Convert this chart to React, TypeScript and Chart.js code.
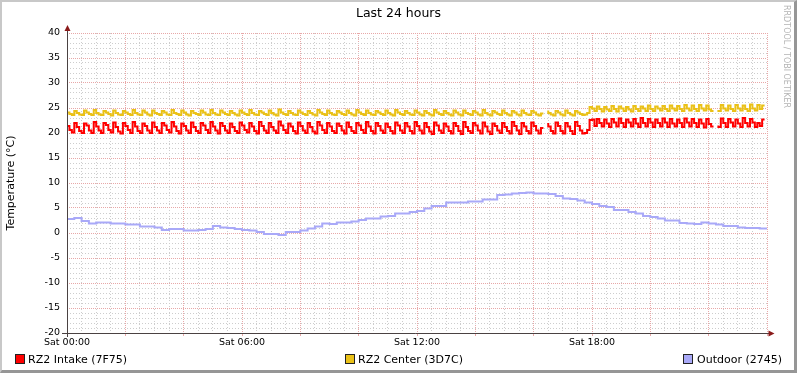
import { useEffect, useRef } from 'react';
import { Chart, registerables } from 'chart.js';

Chart.register(...registerables);

// ---------- data ----------
const TITLE = 'Last 24 hours';
const Y_TITLE = 'Temperature (°C)';
const X_LABELS = ['Sat 00:00', 'Sat 06:00', 'Sat 12:00', 'Sat 18:00'];
const SERIES_NAMES = ['RZ2 Intake (7F75)', 'RZ2 Center (3D7C)', 'Outdoor (2745)'];
const SERIES_COLORS = ['#FF0000', '#EAC117', '#A9A9F8'];
const SAMPLE_MINUTES = 5;
const OUTDOOR_SAMPLE_MINUTES = 15;
const Y_MIN = -20;
const Y_MAX = 40;
const X_MAX = 1440;

// RZ2 Intake, one row per hour (5-minute samples)
const INTAKE: (number | null)[] = [
  22.1, 21.4, 20.6, 20.1, 22.0, 21.2, 20.4, 20.0, 21.9, 21.5, 20.5, 20.0,
  22.2, 21.3, 20.5, 20.0, 22.0, 21.6, 20.6, 20.1, 22.1, 21.2, 20.3, 19.9,
  22.0, 21.4, 20.6, 20.0, 22.2, 21.3, 20.4, 20.0, 21.9, 21.4, 20.5, 20.0,
  22.1, 21.2, 20.5, 20.0, 22.0, 21.5, 20.6, 20.1, 22.2, 21.3, 20.4, 19.9,
  21.9, 21.4, 20.5, 20.0, 22.1, 21.2, 20.4, 20.0, 22.0, 21.5, 20.6, 20.0,
  22.2, 21.3, 20.5, 19.9, 22.0, 21.4, 20.5, 20.0, 21.9, 21.2, 20.4, 20.0,
  22.1, 21.5, 20.6, 20.1, 22.0, 21.3, 20.4, 19.9, 22.2, 21.4, 20.5, 20.0,
  22.0, 21.2, 20.5, 20.0, 22.3, 21.5, 20.6, 20.0, 21.9, 21.3, 20.4, 19.9,
  22.1, 21.4, 20.5, 20.0, 22.0, 21.2, 20.3, 19.9, 22.2, 21.5, 20.6, 20.0,
  22.0, 21.3, 20.4, 20.0, 21.9, 21.4, 20.5, 19.9, 22.1, 21.2, 20.4, 20.0,
  22.0, 21.5, 20.6, 20.0, 22.2, 21.3, 20.4, 19.9, 22.0, 21.4, 20.5, 20.0,
  21.9, 21.2, 20.4, 19.9, 22.1, 21.5, 20.5, 20.0, 22.0, 21.3, 20.4, 19.9,
  22.2, 21.4, 20.5, 19.9, 22.0, 21.2, 20.3, 19.8, 22.1, 21.5, 20.5, 20.0,
  21.9, 21.3, 20.4, 19.9, 22.0, 21.4, 20.4, 19.8, 22.2, 21.2, 20.4, 20.0,
  22.0, 21.5, 20.5, 19.9, 22.1, 21.3, 20.3, 19.8, 21.9, 21.4, 20.5, 20.0,
  22.0, 21.2, 20.4, 19.9, 22.2, 21.4, 20.5, 19.8, 22.0, 21.3, 20.4, 19.9,
  22.1, 21.4, 20.5, 19.9, 21.0, null, 22.0, 21.3, 20.4, 19.9, 22.1, 21.4,
  20.4, 19.9, 22.0, 21.3, 20.4, 19.8, 22.2, 21.4, 20.5, 19.9, 20.0, 20.6,
  22.6, 22.7, 21.4, 22.8, 22.0, 21.3, 22.7, 21.9, 21.2, 22.8, 22.1, 21.3,
  22.9, 22.0, 21.2, 22.7, 22.1, 21.3, 22.8, 21.9, 21.2, 23.0, 22.0, 21.3,
  22.8, 22.1, 21.2, 22.7, 22.0, 21.3, 22.9, 22.1, 21.2, 22.8, 21.9, 21.3,
  22.7, 22.0, 21.2, 22.9, 22.1, 21.3, 22.8, 22.0, 21.2, 22.7, 21.9, 21.1,
  22.8, 21.8, 21.3, null, 21.5, 21.2, 22.9, 22.0, 21.2, 22.8, 22.1, 21.3,
  22.7, 21.9, 21.2, 23.0, 22.0, 21.3, 22.8, 22.1, 21.2, 22.0, 21.4, 22.7,
];

// RZ2 Center, one row per hour (5-minute samples)
const CENTER: (number | null)[] = [
  24.6, 24.1, 23.8, 23.6, 24.4, 24.0, 23.7, 23.6, 24.5, 24.1, 23.8, 23.6,
  24.6, 24.0, 23.7, 23.6, 24.4, 24.1, 23.8, 23.5, 24.5, 24.0, 23.7, 23.6,
  24.4, 24.1, 23.8, 23.6, 24.6, 24.0, 23.7, 23.6, 24.5, 24.1, 23.7, 23.5,
  24.5, 24.0, 23.8, 23.6, 24.4, 24.1, 23.7, 23.6, 24.6, 24.0, 23.8, 23.6,
  24.5, 24.1, 23.7, 23.5, 24.4, 24.0, 23.8, 23.6, 24.5, 24.1, 23.7, 23.6,
  24.6, 24.0, 23.7, 23.6, 24.5, 24.1, 23.8, 23.6, 24.4, 24.0, 23.7, 23.5,
  24.5, 24.1, 23.8, 23.6, 24.6, 24.0, 23.7, 23.6, 24.4, 24.1, 23.8, 23.6,
  24.5, 24.0, 23.7, 23.5, 24.7, 24.1, 23.8, 23.6, 24.4, 24.0, 23.7, 23.6,
  24.5, 24.1, 23.8, 23.6, 24.4, 24.0, 23.7, 23.5, 24.6, 24.1, 23.8, 23.6,
  24.5, 24.0, 23.7, 23.6, 24.4, 24.1, 23.8, 23.6, 24.5, 24.0, 23.7, 23.5,
  24.6, 24.1, 23.8, 23.6, 24.5, 24.0, 23.7, 23.6, 24.4, 24.1, 23.8, 23.6,
  24.5, 24.0, 23.7, 23.5, 24.6, 24.1, 23.8, 23.6, 24.4, 24.0, 23.7, 23.6,
  24.5, 24.1, 23.7, 23.5, 24.4, 24.0, 23.7, 23.5, 24.6, 24.1, 23.8, 23.6,
  24.4, 24.0, 23.7, 23.5, 24.5, 24.1, 23.7, 23.5, 24.5, 24.0, 23.8, 23.6,
  24.4, 24.1, 23.7, 23.5, 24.6, 24.0, 23.7, 23.5, 24.4, 24.1, 23.8, 23.6,
  24.5, 24.0, 23.7, 23.5, 24.4, 24.1, 23.7, 23.5, 24.5, 24.0, 23.7, 23.6,
  24.4, 24.1, 23.7, 23.5, 23.9, null, 24.5, 24.0, 23.7, 23.5, 24.4, 24.1,
  23.7, 23.5, 24.5, 24.0, 23.7, 23.5, 24.4, 24.1, 23.8, 23.6, 23.7, 24.0,
  25.2, 24.9, 24.4, 25.3, 24.8, 24.3, 25.2, 24.7, 24.4, 25.4, 24.8, 24.3,
  25.3, 24.9, 24.4, 25.2, 24.7, 24.3, 25.4, 24.8, 24.4, 25.3, 24.9, 24.4,
  25.5, 24.8, 24.4, 25.3, 24.9, 24.5, 25.4, 24.8, 24.4, 25.5, 24.9, 24.5,
  25.4, 24.8, 24.4, 25.6, 24.9, 24.5, 25.5, 24.8, 24.4, 25.6, 24.9, 24.5,
  25.5, 24.7, 24.4, null, 24.6, 24.4, 25.6, 24.9, 24.5, 25.5, 24.8, 24.4,
  25.6, 24.9, 24.5, 25.5, 24.8, 24.4, 25.7, 24.9, 24.5, 25.6, 24.8, 25.5,
];

// Outdoor, 15-minute samples
const OUTDOOR: number[] = [
  2.8, 2.8, 3.0, 2.4, 1.9, 2.1, 2.1, 1.9, 1.9, 1.7, 1.7, 1.3,
  1.3, 1.1, 0.6, 0.8, 0.8, 0.5, 0.5, 0.6, 0.8, 1.4, 1.1, 1.0,
  0.8, 0.6, 0.5, 0.2, -0.2, -0.2, -0.4, 0.2, 0.2, 0.5, 0.9, 1.3,
  1.9, 1.8, 2.1, 2.1, 2.3, 2.6, 2.9, 2.9, 3.3, 3.4, 3.9, 3.9,
  4.2, 4.4, 4.9, 5.4, 5.4, 6.1, 6.1, 6.1, 6.3, 6.3, 6.7, 6.7,
  7.6, 7.7, 7.9, 8.0, 8.1, 7.9, 7.9, 7.8, 7.4, 6.9, 6.8, 6.5,
  6.1, 5.8, 5.4, 5.2, 4.6, 4.6, 4.2, 3.9, 3.4, 3.2, 2.9, 2.5,
  2.5, 2.0, 1.9, 1.8, 2.1, 1.9, 1.7, 1.4, 1.4, 1.1, 1.0, 1.0,
  0.9,
];

// ---------- styling ----------
const FONT = '"DejaVu Sans", sans-serif';
const MAJOR_GRID = 'rgb(232,168,168)';
const MINOR_GRID = 'rgb(205,205,205)';
const AXIS_COLOR = '#4a4242';
const ARROW_COLOR = '#8a1a1a';

const rrdAxes = {
  id: 'rrdAxes',
  afterDatasetsDraw(chart: any) {
    const { ctx, chartArea } = chart;
    const { left, right, top, bottom } = chartArea;
    const ax = Math.round(left) + 0.5;
    const ay = Math.round(bottom) + 0.5;
    ctx.save();
    ctx.strokeStyle = AXIS_COLOR;
    ctx.lineWidth = 1;
    ctx.beginPath();
    ctx.moveTo(ax, bottom + 4);
    ctx.lineTo(ax, top - 4);
    ctx.moveTo(left - 5, ay);
    ctx.lineTo(right + 2, ay);
    ctx.stroke();
    ctx.fillStyle = ARROW_COLOR;
    ctx.beginPath();
    ctx.moveTo(ax - 3, top - 2);
    ctx.lineTo(ax + 3, top - 2);
    ctx.lineTo(ax, top - 8);
    ctx.closePath();
    ctx.fill();
    ctx.beginPath();
    ctx.moveTo(right + 1.5, ay - 3);
    ctx.lineTo(right + 1.5, ay + 3);
    ctx.lineTo(right + 7.5, ay);
    ctx.closePath();
    ctx.fill();
    ctx.restore();
  },
};

export default function App() {
  const ref = useRef<HTMLCanvasElement>(null);

  useEffect(() => {
    document.body.style.margin = '0';
    const lineDs = (label: string, color: string, values: (number | null)[], step: number) => ({
      label,
      data: values.map((v, i) => ({ x: i * step, y: v })),
      borderColor: color,
      backgroundColor: color,
      borderWidth: 2,
      pointRadius: 0,
      stepped: 'after',
      spanGaps: false,
      fill: false,
      xAxisID: 'x',
      yAxisID: 'y',
    });
    const chart = new Chart(ref.current as HTMLCanvasElement, {
      type: 'line',
      data: {
        datasets: [
          lineDs(SERIES_NAMES[0], SERIES_COLORS[0], INTAKE, SAMPLE_MINUTES),
          lineDs(SERIES_NAMES[1], SERIES_COLORS[1], CENTER, SAMPLE_MINUTES),
          lineDs(SERIES_NAMES[2], SERIES_COLORS[2], OUTDOOR, OUTDOOR_SAMPLE_MINUTES),
        ] as any,
      },
      options: {
        responsive: false,
        animation: false,
        events: [],
        layout: { padding: { left: 0, right: 27, top: 31, bottom: 17 } },
        plugins: {
          legend: { display: false },
          title: { display: false },
          tooltip: { enabled: false },
        },
        scales: {
          xMinor: {
            type: 'linear',
            position: 'bottom',
            min: 0,
            max: X_MAX,
            ticks: { display: false, stepSize: 30 },
            grid: {
              color: (c: any) => (c.tick && c.tick.value % 120 === 0 ? 'rgba(0,0,0,0)' : MINOR_GRID),
              drawTicks: false,
            },
            border: { display: false, dash: [1, 2] },
          },
          x: {
            type: 'linear',
            position: 'bottom',
            min: 0,
            max: X_MAX,
            afterFit: (s: any) => {
              s.height = 20;
            },
            ticks: {
              stepSize: 120,
              autoSkip: false,
              maxRotation: 0,
              minRotation: 0,
              padding: 1,
              color: '#000',
              font: { family: FONT, size: 9.5 },
              callback: (v: any) => (v % 360 === 0 && v < X_MAX ? X_LABELS[v / 360] : ''),
            },
            grid: { color: MAJOR_GRID, drawTicks: true, tickLength: 3, tickColor: MAJOR_GRID },
            border: { display: false, dash: [1, 1] },
          },
          yMinor: {
            type: 'linear',
            position: 'left',
            min: Y_MIN,
            max: Y_MAX,
            ticks: { display: false, stepSize: 1 },
            grid: {
              color: (c: any) => (c.tick && c.tick.value % 5 === 0 ? 'rgba(0,0,0,0)' : MINOR_GRID),
              drawTicks: false,
            },
            border: { display: false, dash: [1, 2] },
          },
          y: {
            type: 'linear',
            position: 'left',
            min: Y_MIN,
            max: Y_MAX,
            afterFit: (s: any) => {
              s.width = 65;
            },
            ticks: {
              stepSize: 5,
              padding: 7,
              color: '#000',
              font: { family: FONT, size: 9.5 },
            },
            grid: { color: MAJOR_GRID, drawTicks: false },
            border: { display: false, dash: [1, 1] },
            title: {
              display: true,
              text: Y_TITLE,
              color: '#000',
              font: { family: FONT, size: 11 },
              padding: { top: 3, bottom: 0 },
            },
          },
        } as any,
      },
      plugins: [rrdAxes],
    });
    return () => chart.destroy();
  }, []);

  const legendItem = (i: number, boxLeft: number, textLeft: number) => (
    <>
      <div
        key={'b' + i}
        style={{
          position: 'absolute',
          left: boxLeft,
          top: 354,
          width: 10,
          height: 10,
          boxSizing: 'border-box',
          border: '1px solid #222',
          background: SERIES_COLORS[i],
        }}
      />
      <div
        key={'t' + i}
        style={{
          position: 'absolute',
          left: textLeft,
          top: 353,
          fontSize: 11,
          lineHeight: '13px',
          whiteSpace: 'nowrap',
          color: '#000',
        }}
      >
        {SERIES_NAMES[i]}
      </div>
    </>
  );

  return (
    <div
      style={{
        position: 'fixed',
        left: 0,
        top: 0,
        width: 797,
        height: 373,
        background: '#fff',
        fontFamily: FONT,
        overflow: 'hidden',
      }}
    >
      <canvas
        ref={ref}
        width={792}
        height={368}
        style={{ position: 'absolute', left: 2, top: 2, width: 792, height: 368 }}
      />
      <div
        style={{
          position: 'absolute',
          inset: 0,
          boxSizing: 'border-box',
          borderLeft: '2px solid #c8c8c8',
          borderTop: '2px solid #c8c8c8',
          borderRight: '3px solid #969696',
          borderBottom: '3px solid #969696',
          pointerEvents: 'none',
        }}
      />
      <div
        style={{
          position: 'absolute',
          left: 0,
          top: 5,
          width: 797,
          textAlign: 'center',
          fontSize: 12.5,
          lineHeight: '15px',
          color: '#000',
        }}
      >
        {TITLE}
      </div>
      <div
        style={{
          position: 'absolute',
          left: 781,
          top: 5,
          writingMode: 'vertical-rl',
          fontSize: 8,
          lineHeight: '10px',
          color: '#b4b4b4',
          whiteSpace: 'nowrap',
        }}
      >
        RRDTOOL / TOBI OETIKER
      </div>
      {legendItem(0, 15, 28)}
      {legendItem(1, 345, 358)}
      {legendItem(2, 683, 697)}
    </div>
  );
}
